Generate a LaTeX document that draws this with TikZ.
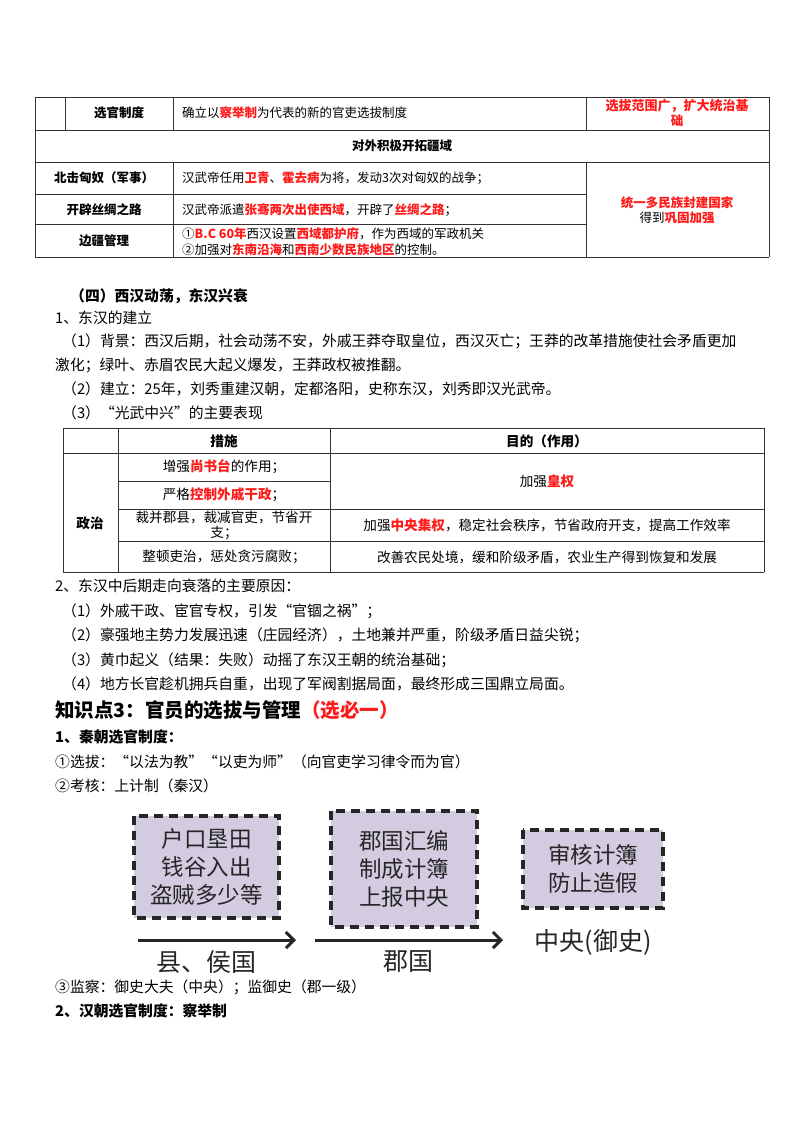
\documentclass[tikz,border=0pt]{standalone}
\usepackage{fontspec}
\setmainfont{Noto Sans CJK SC}
\usetikzlibrary{arrows.meta}
\definecolor{hred}{HTML}{FF1A1A}
\definecolor{boxfill}{HTML}{D3CBE0}
\newcommand\rr[1]{\textcolor{hred}{\bfseries #1}}
\newcommand\fs{\fontsize{12.5}{15}\selectfont}
\newcommand\ts{\fontsize{13.6}{15}\selectfont}
\newcommand\bs{\fontsize{14.8}{17}\selectfont}
\begin{document}
\begin{tikzpicture}[x=1pt,y=-1pt,
  txt/.style={anchor=west,inner sep=0,font=\fs},
  btx/.style={anchor=west,inner sep=0,font=\bs},
  cell/.style={anchor=center,inner sep=0,font=\fs,align=center},
  bcell/.style={cell,font=\fs\bfseries},
  tcell/.style={anchor=center,inner sep=0,font=\ts,align=center},
  tl/.style={line width=0.8pt,black!80},
  dbox/.style={draw=black!85,line width=3.5pt,dash pattern=on 9pt off 6pt,fill=boxfill},
  btxt/.style={anchor=center,inner sep=0,font=\fontsize{22.5}{28}\selectfont,align=center,text=black!85},
  ltxt/.style={anchor=center,inner sep=0,font=\fontsize{25}{28}\selectfont,text=black!85},
  arr/.style={line width=3pt,black!85,-{Straight Barb[length=8pt,width=16pt,line width=3pt]}}]
\useasboundingbox (0,0) rectangle (800,1132);
\fill[white] (0,0) rectangle (800,1132);
% table 1
\draw[tl] (35,97)--(769,97) (35,130)--(769,130) (35,162)--(769,162) (35,194)--(586,194) (35,224)--(586,224) (35,257)--(769,257);
\draw[tl] (35,97)--(35,257) (769,97)--(769,257) (65,97)--(65,130) (173,97)--(173,130) (586,97)--(586,130) (173,162)--(173,257) (586,162)--(586,257);
\node[bcell] (t1a) at (119,113) {选官制度};
\node[txt] (t1b) at (182,113) {确立以\rr{察举制}为代表的新的官吏选拔制度};
\node[cell,font=\fs\bfseries\color{hred},align=center] (t1c) at (677,113) {\fontsize{13}{11}\selectfont 选拔范围广，扩大统治基\\础};
\node[bcell] (t1d) at (402,146) {对外积极开拓疆域};
\node[bcell] (t1e) at (104,178) {北击匈奴（军事）};
\node[txt] (t1f) at (182,178) {汉武帝任用\rr{卫青}、\rr{霍去病}为将，发动3次对匈奴的战争；};
\node[bcell] (t1g) at (104,210) {开辟丝绸之路};
\node[txt] (t1h) at (182,210) {汉武帝派遣\rr{张骞两次出使西域}，开辟了\rr{丝绸之路}；};
\node[bcell] (t1i) at (104,241) {边疆管理};
\node[txt] (t1j) at (182,234) {①\rr{B.C 60年}西汉设置\rr{西域都护府}，作为西域的军政机关};
\node[txt] (t1k) at (182,250) {②加强对\rr{东南沿海}和\rr{西南少数民族地区}的控制。};
\node[cell,align=center] (t1l) at (677,210) {\rr{统一多民族封建国家}\\得到\rr{巩固加强}};
% text
\node[btx,font=\bs\bfseries] (h4) at (70,296) {（四）西汉动荡，东汉兴衰};
\node[btx] (p1) at (55,318) {1、东汉的建立};
\node[btx] (p2) at (62,341) {（1）背景：西汉后期，社会动荡不安，外戚王莽夺取皇位，西汉灭亡；王莽的改革措施使社会矛盾更加};
\node[btx] (p3) at (55,365) {激化；绿叶、赤眉农民大起义爆发，王莽政权被推翻。};
\node[btx] (p4) at (62,389) {（2）建立：25年，刘秀重建汉朝，定都洛阳，史称东汉，刘秀即汉光武帝。};
\node[btx] (p5) at (62,413) {（3）“光武中兴”的主要表现};
% table 2
\draw[tl] (63,428)--(764,428) (63,453)--(764,453) (118,481)--(330,481) (118,509)--(764,509) (118,541)--(764,541) (63,572)--(764,572);
\draw[tl] (63,428)--(63,572) (764,428)--(764,572) (118,428)--(118,572) (330,428)--(330,572);
\node[tcell,font=\ts\bfseries] (u1) at (224,441) {措施};
\node[tcell,font=\ts\bfseries] (u2) at (547,441) {目的（作用）};
\node[tcell,font=\ts\bfseries] (u3) at (90,523) {政治};
\node[tcell] (u4) at (224,467) {增强\rr{尚书台}的作用；};
\node[tcell] (u5) at (224,495) {严格\rr{控制外戚干政}；};
\node[tcell] (u6) at (547,481) {加强\rr{皇权}};
\node[tcell] (u7) at (224,525) {\fontsize{13.6}{15}\selectfont 裁并郡县，裁减官吏，节省开\\支；};
\node[tcell] (u8) at (547,525) {加强\rr{中央集权}，稳定社会秩序，节省政府开支，提高工作效率};
\node[tcell] (u9) at (224,557) {整顿吏治，惩处贪污腐败；};
\node[tcell] (u10) at (547,557) {改善农民处境，缓和阶级矛盾，农业生产得到恢复和发展};
% text
\node[btx] (q1) at (55,586) {2、东汉中后期走向衰落的主要原因：};
\node[btx] (q2) at (62,611) {（1）外戚干政、宦官专权，引发“官锢之祸”；};
\node[btx] (q3) at (62,635) {（2）豪强地主势力发展迅速（庄园经济），土地兼并严重，阶级矛盾日益尖锐；};
\node[btx] (q4) at (62,660) {（3）黄巾起义（结果：失败）动摇了东汉王朝的统治基础；};
\node[btx] (q5) at (62,684) {（4）地方长官趁机拥兵自重，出现了军阀割据局面，最终形成三国鼎立局面。};
\node[txt,font=\fontsize{19.5}{22}\selectfont\bfseries] (k3) at (55,710) {知识点3：官员的选拔与管理\textcolor{hred}{（选必一）}};
\node[btx,font=\bs\bfseries] (r1) at (55,737) {1、秦朝选官制度：};
\node[btx] (r2) at (55,762) {①选拔：“以法为教”“以吏为师”（向官吏学习律令而为官）};
\node[btx] (r3) at (55,786) {②考核：上计制（秦汉）};
% diagram
\path[dbox] (134,816) rectangle (279,918);
\path[dbox] (331,811) rectangle (477,927);
\path[dbox] (523,830) rectangle (663,908);
\node[btxt] (b1) at (206.5,867) {户口垦田\\钱谷入出\\盗贼多少等};
\node[btxt] (b2) at (404,869) {郡国汇编\\制成计簿\\上报中央};
\node[btxt] (b3) at (593,869) {审核计簿\\防止造假};
\coordinate (a1s) at (138,940); \coordinate (a1e) at (296,940);
\coordinate (a2s) at (315,940); \coordinate (a2e) at (503,940);
\draw[arr] (a1s)--(a1e);
\draw[arr] (a2s)--(a2e);
\node[ltxt] (l1) at (206,962) {县、侯国};
\node[ltxt] (l2) at (408,962) {郡国};
\node[ltxt] (l3) at (593,942) {中央(御史)};
\node[btx] (s1) at (55,987) {③监察：御史大夫（中央）；监御史（郡一级）};
\node[btx,font=\bs\bfseries] (s2) at (55,1011) {2、汉朝选官制度：察举制};
\end{tikzpicture}
\end{document}
